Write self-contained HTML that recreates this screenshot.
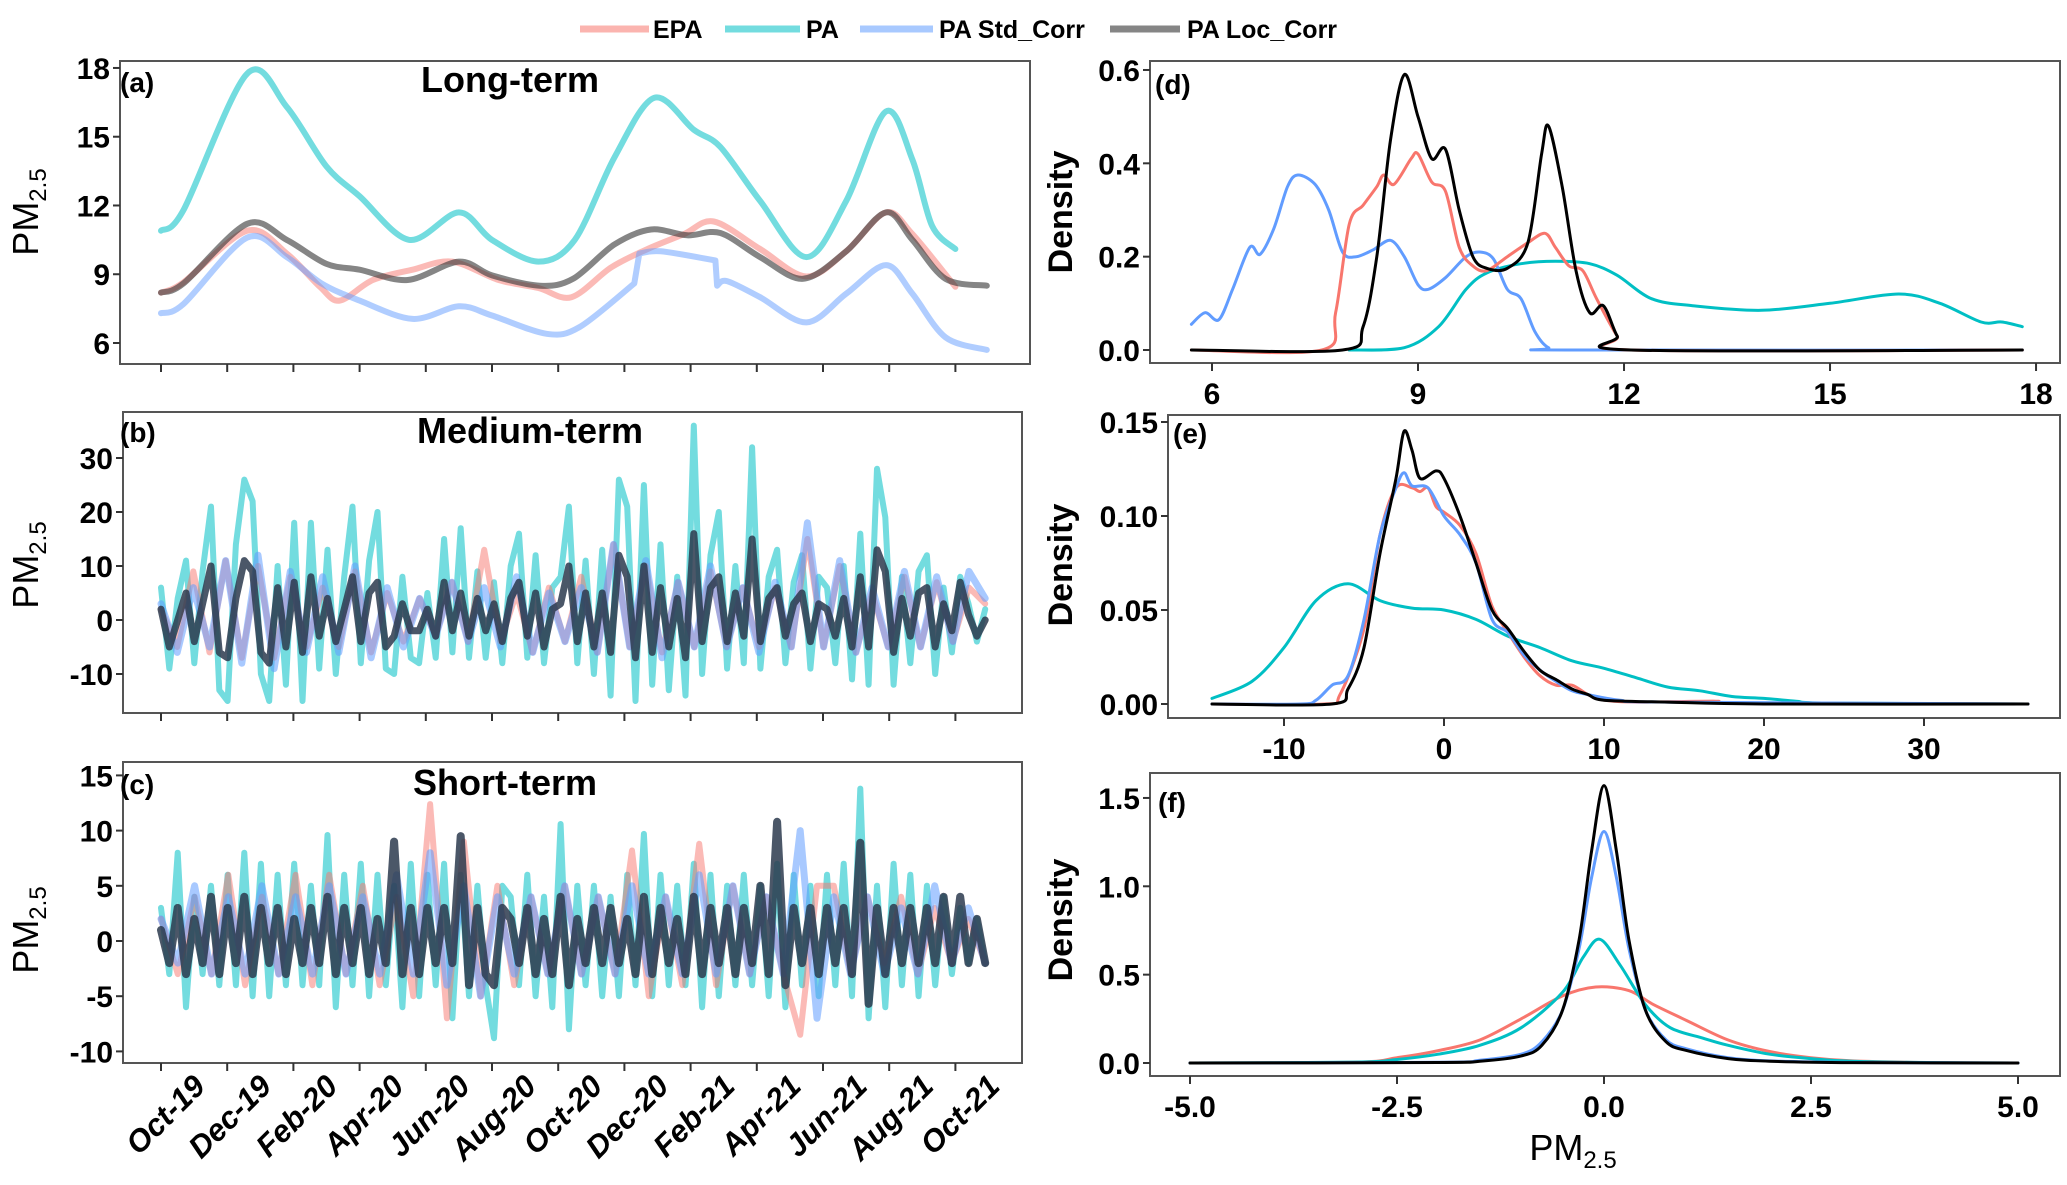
<!DOCTYPE html>
<html><head><meta charset="utf-8"><style>
html,body{margin:0;padding:0;background:#fff}
svg{display:block;font-family:"Liberation Sans",Arial,sans-serif}
</style></head><body>
<svg id="chart" width="2067" height="1185" viewBox="0 0 2067 1185" xmlns="http://www.w3.org/2000/svg">
<g id="legend">
 <g><line x1="580" y1="29" x2="649" y2="29" stroke="#F8766D" stroke-opacity="0.55" stroke-width="7"/><text x="653" y="38" font-size="25" font-weight="bold">EPA</text></g>
 <g><line x1="725" y1="29" x2="800" y2="29" stroke="#00BFC4" stroke-opacity="0.55" stroke-width="7"/><text x="806" y="38" font-size="25" font-weight="bold">PA</text></g>
 <g><line x1="860" y1="29" x2="933" y2="29" stroke="#619CFF" stroke-opacity="0.55" stroke-width="7"/><text x="939" y="38" font-size="25" font-weight="bold">PA Std_Corr</text></g>
 <g><line x1="1110" y1="29" x2="1180" y2="29" stroke="#333" stroke-opacity="0.6" stroke-width="7"/><text x="1187" y="38" font-size="25" font-weight="bold">PA Loc_Corr</text></g>
</g>
<g id="plots"></g>
</svg>
<script>
// ---------- Panel (a) long-term: [month since Oct-19, value]
const aEpaM=[0,0.68,2.6,3.8,4.8,5.4,6.4,7.6,8.8,10.2,11.4,12.4,13.6,14.7,15.8,16.7,18.1,19.5,20.7,21.9,22.7,24.0];
const aEpaV=[8.2,8.65,10.9,9.9,8.45,7.85,8.75,9.2,9.55,8.75,8.4,8.0,9.3,10.1,10.75,11.3,10.1,8.9,10.0,11.7,10.75,8.45];
const aPaM=[0,0.68,2.6,3.8,5.0,6.0,7.5,9.0,10.0,11.4,12.5,13.7,14.9,16.1,16.9,18.1,19.5,20.7,21.9,22.7,23.3,24.0];
const aPaV=[10.9,11.8,17.75,16.3,13.7,12.4,10.5,11.7,10.5,9.55,10.5,14.1,16.7,15.3,14.55,12.2,9.75,12.2,16.1,14.0,11.1,10.1];
const aStdM=[0,0.68,2.6,3.8,4.85,6.0,7.6,9.0,10.0,11.65,12.65,14.3,14.45,15.1,16.75,16.8,17.1,18.1,19.5,20.7,21.9,22.7,23.7,24.95];
const aStdV=[7.3,7.7,10.6,9.75,8.6,7.85,7.05,7.6,7.2,6.4,6.7,8.6,9.9,10.0,9.6,8.5,8.7,8.0,6.9,8.15,9.4,8.15,6.25,5.7];
const aLocM=[0,0.68,2.6,3.8,5.0,6.0,7.45,9.0,10.0,11.45,12.45,13.7,14.8,15.9,16.9,18.1,19.4,20.7,21.9,22.7,23.7,24.95];
const aLocV=[8.2,8.6,11.2,10.5,9.45,9.2,8.75,9.55,8.95,8.5,8.8,10.3,10.95,10.7,10.8,9.75,8.8,10.0,11.7,10.5,8.8,8.5];
const monthTicks=["Oct-19","Dec-19","Feb-20","Apr-20","Jun-20","Aug-20","Oct-20","Dec-20","Feb-21","Apr-21","Jun-21","Aug-21","Oct-21"];
const aTicks=[6,9,12,15,18];
// ---------- Panel (b) medium-term (quarter-month steps)
const bPa=[6,-9,4,11,-8,9,21,-13,-15,14,26,22,-10,-15,10,-12,18,-15,18,-9,13,-10,8,21,-8,11,20,-9,-10,8,-7,-8,5,-7,15,-6,17,-7,9,-7,7,-8,10,16,-7,12,-8,6,8,21,-8,11,-10,13,-14,26,21,-15,25,-12,14,-13,8,-14,36,-10,12,20,-9,10,-8,32,-9,8,13,-8,7,12,-9,8,6,-8,10,-11,16,-12,28,19,-12,8,-8,9,12,-10,6,-6,8,3,-4,2];
const bLoc=[2,-5,0,5,-4,3,10,-6,-7,4,11,9,-6,-8,6,-5,7,-6,8,-3,4,-4,2,8,-4,5,7,-5,-3,3,-2,-2,2,-3,7,-2,5,-3,4,-2,3,-4,4,7,-3,5,-5,2,3,10,-4,5,-5,5,-6,12,8,-7,10,-6,6,-5,4,-7,16,-4,6,8,-4,5,-3,15,-4,4,6,-3,3,5,-4,3,2,-3,4,-5,8,-5,13,9,-6,4,-3,5,6,-5,3,-2,7,1,-3,0];
const bStd=[3,-6,6,-5,11,-8,12,-9,9,-6,8,-6,10,-7,6,-5,4,-3,7,-4,6,-5,8,-6,5,-4,6,-6,14,-5,11,-7,7,-5,10,-5,6,-6,7,-5,18,-5,11,-6,6,-5,9,-5,8,-4,9,4];
const bEpa=[2,-5,9,-6,11,-7,10,-7,8,-5,6,-5,9,-6,5,-4,4,-3,7,-4,13,-4,5,-6,6,-4,8,-6,14,-5,10,-6,7,-5,9,-5,6,-5,6,-5,15,-5,10,-6,5,-5,8,-5,7,-4,6,3];
const bTicks=[-10,0,10,20,30];
// ---------- Panel (c) short-term
const cPa=[3,-3,8,-6,4,-3,5,-4,6,-4,8,-5,7,-5,6,-4,7,-4,5,-4,9.6,-6,6,-4,7,-5,6,-4,5,-6,7,-5,6,-4,7,-7,6,-5,5,-4,-8.8,5,4,-4,6,-5,4,-6,10.6,-8,5,-4,5,-5,4,-5,6,-4,9.7,-5,6,-4,5,-4,7,-6,6,-5,5,-4,6,-4,5,-5,7,-6,6,-4,5,-5,6,-4,7,-5,13.8,-7,5,-6,7,-4,6,-5,5,-4,4,-3,3,-2,2,-2];
const cEpa=[2,-3,4,-3,6,-4,4,-3,6,-4,6,-3,5,-4,4,-5,12.4,-7,9,-5,5,-4,4,-3,5,-3,4,-3,8.2,-5,4,-4,8.8,-4,5,-3,4,-3,-8.5,5,5,-3,4,-2,4,-3,3,-2,2,-2];
const cStd=[2,-2,5,-3,4,-3,5,-3,4,-3,5,-3,4,-3,6,-3,8,-4,5,-5,4,-3,4,-3,5,-3,4,-3,5,-3,4,-3,6,-3,5,-3,4,-3,10,-7,4,-3,4,-3,3,-3,5,-2,3,-2];
const cLoc=[1,-2,3,-3,2,-2,4,-3,3,-2,4,-3,3,-2,3,-3,2,-2,3,-2,4,-3,3,-2,3,-3,2,-2,9,-3,3,-3,3,-2,3,-2,9.5,-4,3,-3,-4,3,2,-2,3,-3,2,-3,4,-4,2,-2,3,-2,3,-2,2,-3,4,-3,3,-2,2,-3,4,-3,3,-2,3,-3,3,-2,5,-3,10.8,-4,3,-2,3,-3,3,-2,3,-3,8.9,-5.7,3,-3,3,-2,3,-2,3,-2,4,-2,4,-2,2,-2];
const cTicks=[-10,-5,0,5,10,15];
// ---------- Panel (d) densities
const dStdX=[5.7,5.9,6.1,6.3,6.55,6.7,6.9,7.1,7.25,7.5,7.7,7.9,8.1,8.35,8.6,8.8,9.0,9.15,9.4,9.7,9.9,10.1,10.3,10.5,10.7,10.9,11.2,17.8];
const dStdY=[0.055,0.08,0.065,0.13,0.22,0.205,0.26,0.35,0.375,0.355,0.3,0.21,0.2,0.215,0.235,0.2,0.14,0.13,0.155,0.2,0.21,0.195,0.13,0.11,0.04,0.005,0,0];
const dEpaX=[5.7,7.6,7.8,8.0,8.2,8.4,8.5,8.65,8.9,9.0,9.2,9.4,9.6,9.8,10.0,10.3,10.6,10.85,11.0,11.2,11.4,11.6,11.9,12.1,17.8];
const dEpaY=[0,0,0.08,0.27,0.31,0.35,0.375,0.355,0.41,0.42,0.36,0.34,0.22,0.18,0.17,0.2,0.23,0.25,0.22,0.18,0.17,0.11,0.03,0,0];
const dLocX=[5.7,7.9,8.2,8.4,8.6,8.8,9.0,9.2,9.4,9.6,9.8,10.0,10.3,10.6,10.8,10.9,11.1,11.3,11.5,11.7,11.9,12.1,17.8];
const dLocY=[0,0,0.05,0.2,0.45,0.59,0.5,0.41,0.43,0.3,0.2,0.175,0.175,0.23,0.42,0.48,0.35,0.17,0.08,0.095,0.03,0,0];
const dPaX=[8,8.8,9.3,9.7,10.0,10.5,11.0,11.5,11.9,12.4,13.0,14.0,15.0,16.0,16.6,17.2,17.5,17.8];
const dPaY=[0,0.005,0.05,0.13,0.165,0.185,0.19,0.185,0.16,0.11,0.095,0.085,0.1,0.12,0.1,0.06,0.06,0.05];
const dTicksX=[6,9,12,15,18], dTicksY=[0,0.2,0.4,0.6];
// ---------- Panel (e)
const ePaX=[-14.5,-12,-10,-8,-6,-4,-2,0,2,4,6,8,10,12,14,16,18,20,22,24,36.5];
const ePaY=[0.003,0.012,0.03,0.055,0.064,0.055,0.051,0.05,0.045,0.036,0.03,0.023,0.019,0.014,0.009,0.007,0.004,0.003,0.0015,0.0005,0];
const eLocX=[-14.5,-7,-6,-5,-4,-3,-2.5,-2,-1.5,-0.5,0,1,2,3,4,5,6,7,8,9,10,14,20,36.5];
const eLocY=[0,0,0.008,0.03,0.08,0.12,0.145,0.135,0.12,0.124,0.12,0.1,0.075,0.05,0.04,0.028,0.018,0.013,0.008,0.005,0.002,0.001,0,0];
const eStdX=[-14.5,-9,-8,-7,-6,-5,-4,-3,-2.5,-2,-1,0,1,2,3,4,5,6,7,8,9,11,14,36.5];
const eStdY=[0,0,0.002,0.01,0.015,0.045,0.09,0.115,0.123,0.116,0.115,0.1,0.09,0.075,0.045,0.038,0.026,0.018,0.012,0.007,0.005,0.002,0.001,0];
const eEpaX=[-14.5,-7.5,-6.5,-5,-4,-3,-2,-1.5,-1,-0.5,0,1,2,3,4,5,6,7,8,9,10,12,17,18,36.5];
const eEpaY=[0,0,0.005,0.04,0.09,0.115,0.115,0.113,0.115,0.105,0.102,0.095,0.08,0.052,0.038,0.025,0.015,0.01,0.01,0.005,0.002,0.001,0.0015,0.0005,0];
const eTicksX=[-10,0,10,20,30], eTicksY=[0,0.05,0.1,0.15];
// ---------- Panel (f)
const fLocX=[-5,-2,-1.5,-1,-0.75,-0.5,-0.3,-0.15,0,0.15,0.3,0.5,0.75,1,1.5,2,3,5];
const fLocY=[0,0.003,0.01,0.04,0.1,0.3,0.7,1.2,1.57,1.2,0.7,0.3,0.12,0.07,0.025,0.01,0.002,0];
const fStdX=[-5,-2,-1.5,-1,-0.75,-0.5,-0.3,-0.15,0,0.15,0.3,0.5,0.75,1,1.5,2,3,5];
const fStdY=[0,0.004,0.015,0.05,0.12,0.3,0.65,1.05,1.31,1.05,0.65,0.3,0.13,0.08,0.03,0.012,0.003,0];
const fPaX=[-5,-3,-2.5,-2,-1.5,-1,-0.5,-0.25,-0.05,0.2,0.5,0.8,1.2,1.5,2,2.5,3,4,5];
const fPaY=[0,0.005,0.02,0.05,0.1,0.2,0.4,0.6,0.7,0.55,0.33,0.2,0.14,0.1,0.05,0.025,0.01,0.002,0];
const fEpaX=[-5,-3,-2.5,-2,-1.5,-1,-0.5,-0.1,0.3,0.6,1,1.5,2,2.5,3,4,5];
const fEpaY=[0,0.005,0.03,0.07,0.13,0.25,0.38,0.43,0.41,0.33,0.24,0.13,0.065,0.03,0.012,0.002,0];
const fTicksX=[-5,-2.5,0,2.5,5], fTicksY=[0,0.5,1,1.5];

const NS="http://www.w3.org/2000/svg";
const root=document.getElementById('plots');
function mk(tag,attrs,parent){const e=document.createElementNS(NS,tag);for(const k in attrs)e.setAttribute(k,attrs[k]);(parent||root).appendChild(e);return e;}
function smooth(pts,cont){
  if(pts.length<1)return '';
  let d=(cont?'L':'M')+pts[0][0].toFixed(1)+','+pts[0][1].toFixed(1);
  for(let i=0;i<pts.length-1;i++){
    const p0=pts[i-1]||pts[i],p1=pts[i],p2=pts[i+1],p3=pts[i+2]||p2;
    const t=0.16;
    const c1=[p1[0]+(p2[0]-p0[0])*t,p1[1]+(p2[1]-p0[1])*t];
    const c2=[p2[0]-(p3[0]-p1[0])*t,p2[1]-(p3[1]-p1[1])*t];
    d+='C'+c1[0].toFixed(1)+','+c1[1].toFixed(1)+' '+c2[0].toFixed(1)+','+c2[1].toFixed(1)+' '+p2[0].toFixed(1)+','+p2[1].toFixed(1);
  }
  return d;
}
// smooth but keep abrupt jumps (points closer than gap px in x) as straight steps
function smoothJumps(pts,gap){
  let d='',seg=[pts[0]];
  for(let i=1;i<pts.length;i++){
    if(pts[i][0]-pts[i-1][0]<gap){d+=smooth(seg,d!=='');seg=[pts[i]];}
    else seg.push(pts[i]);
  }
  d+=smooth(seg,d!=='');
  return d;
}
function poly(pts){return 'M'+pts.map(p=>p[0].toFixed(1)+','+p[1].toFixed(1)).join('L');}
function frame(name,x0,y0,x1,y1){
  const r=mk('rect',{x:x0,y:y0,width:x1-x0,height:y1-y0,fill:'none',stroke:'#555','stroke-width':2});
  
  
}
function yAxis(name,ticks,fy,x0,fmt){
  const g=mk('g',{});
  
  
  ticks.forEach(v=>{
    mk('line',{x1:x0-7,x2:x0,y1:fy(v),y2:fy(v),stroke:'#333','stroke-width':2},g);
    const t=mk('text',{x:x0-10,y:fy(v)+11,'text-anchor':'end','font-size':30,'font-weight':'bold'},g);
    t.textContent=fmt?fmt(v):String(v);
    
    
  });
}
function xAxis(name,ticks,fx,y1,labels,fmt){
  const g=mk('g',{});
  
  
  ticks.forEach(v=>{
    mk('line',{x1:fx(v),x2:fx(v),y1:y1,y2:y1+8,stroke:'#333','stroke-width':2},g);
    if(labels){
      const t=mk('text',{x:fx(v),y:y1+41,'text-anchor':'middle','font-size':30,'font-weight':'bold'},g);
      t.textContent=fmt?fmt(v):String(v);
      
      
    }
  });
}
function label(txt,x,y,size,bold,anchor,name){
  const t=mk('text',{x:x,y:y,'font-size':size,'font-weight':bold?'bold':'normal','text-anchor':anchor||'start'});
  t.textContent=txt;
  
  
  return t;
}
function pmTitle(x,y,rot,name){
  const t=mk('text',{x:x,y:y,'font-size':36,transform:rot?'rotate(-90 '+x+' '+y+')':'','text-anchor':'middle'});
  t.innerHTML='PM<tspan font-size="24" dy="8">2.5</tspan>';
  
  
}
function densTitle(x,y,name){
  const t=mk('text',{x:x,y:y,'font-size':34,'font-weight':'bold',transform:'rotate(-90 '+x+' '+y+')','text-anchor':'middle'});
  t.textContent='Density';
  
  
}
const COL={epa:'#F8766D',pa:'#00BFC4',std:'#619CFF',loc:'#333333'};
function series(name,d,color,width,op){
  const p=mk('path',{d:d,fill:'none',stroke:color,'stroke-width':width,'stroke-opacity':op,'stroke-linejoin':'round','stroke-linecap':'round'});
  
  
}
const xT=m=>161+m*33.1;
const tickMonths=monthTicks.map((_,i)=>i*2);

// ===== Panel a
const yA=v=>343-(v-6)*22.92;
frame('panel-a',120,61,1030,364);
yAxis('panel-a',aTicks,yA,120);
xAxis('panel-a',tickMonths,xT,364,false);
const zipA=(M,V)=>M.map((m,i)=>[xT(m),yA(V[i])]);
series('line-a-epa',smooth(zipA(aEpaM,aEpaV)),COL.epa,6,0.5);
series('line-a-pa',smooth(zipA(aPaM,aPaV)),COL.pa,6,0.55);
series('line-a-std',smoothJumps(zipA(aStdM,aStdV),8),COL.std,6,0.5);
series('line-a-loc',smooth(zipA(aLocM,aLocV)),COL.loc,6,0.6);
label('(a)',120,92,28,true,'start','panel-a-tag');
label('Long-term',510,92,36,true,'middle','panel-a-title');
pmTitle(38,212,true,'panel-a-y-title');

// ===== Panel b
const yB=v=>620-v*5.4;
frame('panel-b',123,412,1022,713);
yAxis('panel-b',bTicks,yB,123);
xAxis('panel-b',tickMonths,xT,713,false);
const zipS=(V,fy)=>V.map((v,i)=>[xT(i*24.9/(V.length-1)),fy(v)]);
series('line-b-pa',poly(zipS(bPa,yB)),COL.pa,6,0.55);
series('line-b-epa',poly(zipS(bEpa,yB)),COL.epa,6,0.5);
series('line-b-std',poly(zipS(bStd,yB)),COL.std,7,0.55);
series('line-b-loc',poly(zipS(bLoc,yB)),'#2b3a4e',7,0.85);
label('(b)',120,442,28,true,'start','panel-b-tag');
label('Medium-term',530,443,36,true,'middle','panel-b-title');
pmTitle(38,565,true,'panel-b-y-title');

// ===== Panel c
const yC=v=>941-v*11.04;
frame('panel-c',123,762,1022,1063);
yAxis('panel-c',cTicks,yC,123);
xAxis('panel-c',tickMonths,xT,1063,false);
series('line-c-pa',poly(zipS(cPa,yC)),COL.pa,6,0.55);
series('line-c-epa',poly(zipS(cEpa,yC)),COL.epa,6,0.5);
series('line-c-std',poly(zipS(cStd,yC)),COL.std,7,0.55);
series('line-c-loc',poly(zipS(cLoc,yC)),'#2b3a4e',8,0.85);
label('(c)',120,794,28,true,'start','panel-c-tag');
label('Short-term',505,795,36,true,'middle','panel-c-title');
pmTitle(38,930,true,'panel-c-y-title');
monthTicks.forEach((s,i)=>{
  const x=xT(tickMonths[i])+46,y=1088;
  const t=mk('text',{x:x,y:y,'text-anchor':'end','font-size':31,'font-weight':'bold','font-style':'italic',transform:'rotate(-45 '+x+' '+y+')'});
  t.textContent=s;
  
  
});

// ===== Panel d
const xD=v=>1212+(v-6)*68.67, yD=v=>350-v*466.7;
frame('panel-d',1150,61,2060,363);
yAxis('panel-d',dTicksY,yD,1150,v=>v.toFixed(1));
xAxis('panel-d',dTicksX,xD,363,true);
const zipD=(X,Y,fx,fy)=>X.map((x,i)=>[fx(x),fy(Y[i])]);
series('density-d-pa',smooth(zipD(dPaX,dPaY,xD,yD)),COL.pa,3,1);
series('density-d-std',smooth(zipD(dStdX,dStdY,xD,yD)),COL.std,3,1);
series('density-d-epa',smooth(zipD(dEpaX,dEpaY,xD,yD)),COL.epa,3,1);
series('density-d-loc',smooth(zipD(dLocX,dLocY,xD,yD)),'#000',3,1);
label('(d)',1155,94,28,true,'start','panel-d-tag');
densTitle(1072,212,'panel-d-y-title');

// ===== Panel e
const xE=v=>1284+(v+10)*16, yE=v=>704-v*1880;
frame('panel-e',1168,415,2060,718);
yAxis('panel-e',eTicksY,yE,1168,v=>v.toFixed(2));
xAxis('panel-e',eTicksX,xE,718,true);
series('density-e-pa',smooth(zipD(ePaX,ePaY,xE,yE)),COL.pa,3,1);
series('density-e-epa',smooth(zipD(eEpaX,eEpaY,xE,yE)),COL.epa,3,1);
series('density-e-std',smooth(zipD(eStdX,eStdY,xE,yE)),COL.std,3,1);
series('density-e-loc',smooth(zipD(eLocX,eLocY,xE,yE)),'#000',3,1);
label('(e)',1173,443,28,true,'start','panel-e-tag');
densTitle(1072,565,'panel-e-y-title');

// ===== Panel f
const xF=v=>1190+(v+5)*82.8, yF=v=>1063-v*176.7;
frame('panel-f',1150,773,2060,1076);
yAxis('panel-f',fTicksY,yF,1150,v=>v.toFixed(1));
xAxis('panel-f',fTicksX,xF,1076,true,v=>v.toFixed(1));
series('density-f-epa',smooth(zipD(fEpaX,fEpaY,xF,yF)),COL.epa,3,1);
series('density-f-pa',smooth(zipD(fPaX,fPaY,xF,yF)),COL.pa,3,1);
series('density-f-std',smooth(zipD(fStdX,fStdY,xF,yF)),COL.std,3,1);
series('density-f-loc',smooth(zipD(fLocX,fLocY,xF,yF)),'#000',3,1);
label('(f)',1158,812,28,true,'start','panel-f-tag');
densTitle(1072,920,'panel-f-y-title');
pmTitle(1573,1160,false,'x-axis-title');
</script>
</body></html>
